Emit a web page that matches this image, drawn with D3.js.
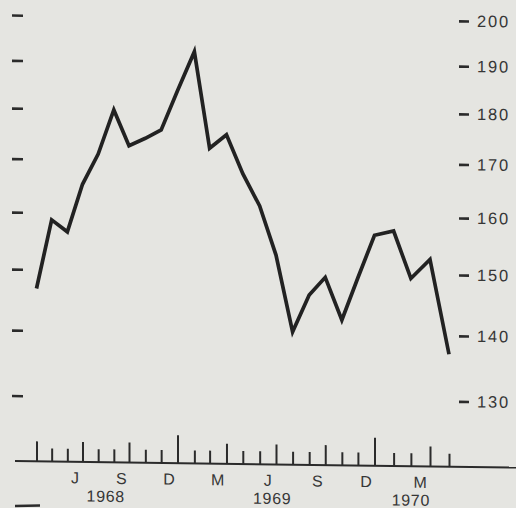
<!DOCTYPE html>
<html><head><meta charset="utf-8">
<script src="https://cdn.jsdelivr.net/npm/d3@7"></script>
<style>html,body{margin:0;padding:0;background:#e5e5e1;}svg{display:block}</style>
</head><body>
<svg id="c" width="516" height="508"></svg>
<script>
// ---- data ----
const months = ["1968-04-01","1968-05-01","1968-06-01","1968-07-01","1968-08-01","1968-09-01",
  "1968-10-01","1968-11-01","1968-12-01","1969-01-01","1969-02-01","1969-03-01","1969-04-01",
  "1969-05-01","1969-06-01","1969-07-01","1969-08-01","1969-09-01","1969-10-01","1969-11-01",
  "1969-12-01","1970-01-01","1970-02-01","1970-03-01","1970-04-01","1970-05-01"];
const values = [146.8,158.7,156.6,165.3,171.1,179.9,172.8,174.3,176.0,184.0,192.4,172.5,175.2,
  167.7,161.7,153.0,140.3,146.3,149.3,142.3,149.3,156.7,157.5,149.3,152.6,137.1];
const yTicks = [130,140,150,160,170,180,190,200];
const monthLabelDates = ["1968-06-16","1968-09-16","1968-12-16","1969-03-16","1969-06-16","1969-09-16","1969-12-16","1970-03-16"];
const monthLabelTexts = ["J","S","D","M","J","S","D","M"];
const yearLabelDates = ["1968-08-16","1969-06-24","1970-03-01"];
const yearLabelTexts = ["1968","1969","1970"];

// ---- setup ----
const parse = d3.utcParse("%Y-%m-%d");
const svg = d3.select("#c");
const skew = 0.013;
const g = svg.append("g").attr("transform", `matrix(1,${skew},0,1,0,${-239*skew})`);

const x = d3.scaleUtc()
  .domain(["1968-04-01","1968-10-01","1969-01-01","1969-07-01","1970-01-01","1970-04-01","1970-05-01"].map(parse))
  .range([36.5,129,177.5,276,374.5,430,449]);
const y = d3.scaleLog().domain([130,200]).range([398.5,18]);

const ink = "#2b2b2b", txt = "#363636";
const font = "'Liberation Sans', Arial, sans-serif";

// right axis
const ra = g.append("g").attr("transform","translate(459,0)")
  .call(d3.axisRight(y).tickValues(yTicks).tickSize(10).tickPadding(8).tickFormat(d3.format("d")));
ra.select(".domain").remove();
ra.selectAll("line").attr("stroke", ink).attr("stroke-width", 2.6);
ra.selectAll("text").attr("fill", txt).attr("font-size", 16.5).attr("font-family", font)
  .attr("letter-spacing", "1.8px");

// left axis (ticks only)
const la = g.append("g").attr("transform","translate(23,0)")
  .call(d3.axisLeft(y).tickValues(yTicks).tickSize(11).tickFormat(() => ""));
la.select(".domain").remove();
la.selectAll("line").attr("stroke", ink).attr("stroke-width", 2.6);

// x axis
const baseY = 464;
g.append("line").attr("x1",15).attr("x2",516).attr("y1",baseY).attr("y2",baseY)
  .attr("stroke", ink).attr("stroke-width", 2);
const xa = g.append("g").attr("transform",`translate(0,${baseY})`)
  .call(d3.axisTop(x).tickValues(months.map(parse)).tickSize(13).tickFormat(() => ""));
xa.select(".domain").remove();
xa.selectAll(".tick line")
  .attr("stroke", ink).attr("stroke-width", 2)
  .attr("y2", d => d.getUTCMonth() === 0 ? -28 : (d.getUTCMonth() % 3 === 0 ? -20 : -13));

g.append("g").selectAll("text").data(monthLabelDates).join("text")
  .attr("x", d => x(parse(d))).attr("y", 485.5)
  .attr("text-anchor","middle").attr("fill", txt).attr("font-size", 16).attr("font-family", font)
  .text((d,i) => monthLabelTexts[i]);
g.append("g").selectAll("text").data(yearLabelDates).join("text")
  .attr("x", d => x(parse(d))).attr("y", 503.5)
  .attr("text-anchor","middle").attr("fill", txt).attr("font-size", 16).attr("font-family", font)
  .attr("letter-spacing","0.7px")
  .text((d,i) => yearLabelTexts[i]);

// line
const line = d3.line().x((d,i) => x(parse(months[i]))).y(d => y(d));
g.append("path").datum(values).attr("d", line)
  .attr("fill","none").attr("stroke","#222").attr("stroke-width",3.7)
  .attr("stroke-linejoin","miter").attr("stroke-miterlimit",6);

// stray mark at bottom-left (edge of next figure)
svg.append("line").attr("x1",15).attr("x2",40).attr("y1",506).attr("y2",505.5)
  .attr("stroke", ink).attr("stroke-width", 2.5);
</script>
</body></html>
